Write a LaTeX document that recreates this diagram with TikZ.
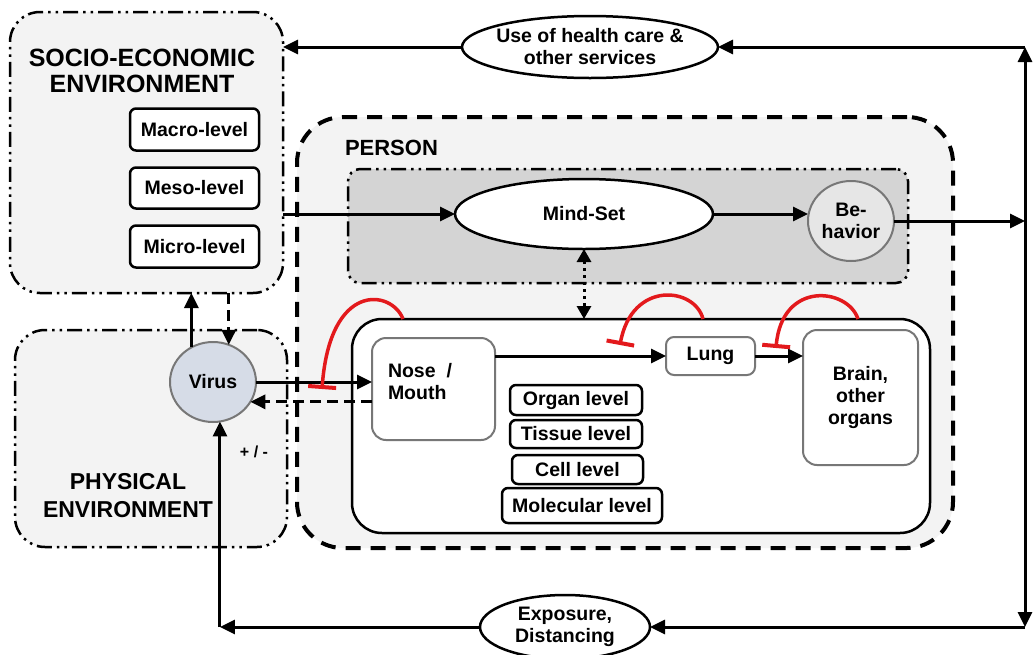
\documentclass[tikz,border=0pt]{standalone}
\usepackage{fontspec}
\setmainfont{Liberation Sans}
\usetikzlibrary{arrows.meta,shapes.geometric,calc}
\definecolor{envfill}{HTML}{F3F3F3}
\definecolor{mindfill}{HTML}{D4D4D4}
\definecolor{virusfill}{HTML}{D6DCE7}
\definecolor{behfill}{HTML}{E6E6E6}
\definecolor{rimgray}{HTML}{777777}
\definecolor{inhred}{HTML}{E3191C}
\begin{document}
\begin{tikzpicture}[x=1pt,y=-1pt,
  every node/.style={font=\bfseries\fontsize{19.5}{22}\selectfont, inner sep=0pt, outer sep=0pt},
  envbox/.style={draw, line width=2.5pt, fill=envfill, rounded corners=30pt,
    dash pattern=on 15pt off 5pt on 2.5pt off 5pt on 2.5pt off 5pt},
  personbox/.style={draw, line width=4pt, fill=envfill, rounded corners=46pt,
    dash pattern=on 15pt off 10pt},
  mindbox/.style={draw, line width=2.5pt, fill=mindfill, rounded corners=12pt,
    dash pattern=on 15pt off 5pt on 2.5pt off 5pt on 2.5pt off 5pt},
  bodybox/.style={draw, line width=2.5pt, fill=white, rounded corners=30pt},
  levelbox/.style={draw, line width=2.5pt, fill=white, rounded corners=6pt},
  organbox/.style={draw=rimgray, line width=2pt, fill=white, rounded corners=14pt},
  oval/.style={draw, ellipse, line width=2.5pt, fill=white},
  arr/.style={line width=3pt, -{Triangle[length=15pt,width=14pt]}},
  dasharr/.style={arr, dash pattern=on 11pt off 6pt},
  dotarr/.style={line width=3pt, dash pattern=on 3pt off 4pt,
    {Triangle[length=13pt,width=14pt]}-{Triangle[length=13pt,width=14pt]}},
  inh/.style={draw=inhred, line width=3.5pt, -{Bar[width=28pt,line width=4pt]}}
]
\useasboundingbox (0,0) rectangle (1034,654);
\fill[white] (0,0) rectangle (1034,654);

% surrounding environments and the person
\node[envbox, minimum width=273pt, minimum height=281pt] (se) at (146.5,152.5) {};
\node[envbox, minimum width=272pt, minimum height=217pt] (pe) at (151,438.5) {};
\node[personbox, minimum width=656pt, minimum height=431pt] (person) at (625,332.5) {};
\node[mindbox, minimum width=560pt, minimum height=114pt] (mindbox) at (628,226) {};
\node[bodybox, minimum width=578pt, minimum height=214pt] (body) at (641,426) {};

% titles
\node[font=\bfseries\fontsize{25}{26}\selectfont, align=center] (setitle) at (142,71) {SOCIO-ECONOMIC\\ENVIRONMENT};
\node[font=\bfseries\fontsize{23}{28}\selectfont, align=center] (petitle) at (128,496) {PHYSICAL\\ENVIRONMENT};
\node[font=\bfseries\fontsize{22}{24}\selectfont, anchor=west] (ptitle) at (345,148) {PERSON};

% socio-economic levels
\node[levelbox, minimum width=129pt, minimum height=42pt] (macro) at (194.5,129.5) {Macro-level};
\node[levelbox, minimum width=129pt, minimum height=41pt] (meso) at (194.5,188) {Meso-level};
\node[levelbox, minimum width=129pt, minimum height=42pt] (micro) at (194.5,246.5) {Micro-level};

% virus
\node[draw=rimgray, line width=2pt, fill=virusfill, ellipse, minimum width=86pt, minimum height=80pt] (virus) at (213,382) {Virus};
\node[font=\bfseries\fontsize{16}{18}\selectfont] (pm) at (254,452) {+ / -};

% mind-set and behaviour
\node[oval, minimum width=258pt, minimum height=70pt] (mind) at (584,214) {Mind-Set};
\node[draw=rimgray, line width=2pt, fill=behfill, ellipse, minimum width=86pt, minimum height=80pt, align=center] (beh) at (851,221) {Be-\\havior};

% organs
\node[organbox, minimum width=123pt, minimum height=102pt] (nose) at (433.5,389) {};
\node[anchor=north west, align=left] (nosetext) at ($(nose.north west)+(16,25)$) {Nose~~/\\Mouth};
\node[organbox, rounded corners=8pt, minimum width=89pt, minimum height=38pt] (lung) at (710.5,356) {Lung};
\node[organbox, minimum width=115pt, minimum height=135pt, align=center] (brain) at (860.5,397.5) {Brain,\\other\\organs};

% biological levels
\node[levelbox, minimum width=132pt, minimum height=30pt] (organ) at (576,400) {Organ level};
\node[levelbox, minimum width=132pt, minimum height=28pt] (tissue) at (576,434) {Tissue level};
\node[levelbox, minimum width=131pt, minimum height=29pt] (cell) at (577.5,469.5) {Cell level};
\node[levelbox, minimum width=160pt, minimum height=35pt] (molec) at (582,505.5) {Molecular level};

% feedback ovals
\node[oval, minimum width=256pt, minimum height=62pt,
  label={[align=center, font=\bfseries\fontsize{19.5}{22}\selectfont]center:Use of health care \&\\other services}] (health) at (590,47) {};
\node[oval, minimum width=170pt, minimum height=64pt,
  label={[align=center, font=\bfseries\fontsize{19.5}{22}\selectfont]center:Exposure,\\Distancing}] (expo) at (565,627) {};

% corner points of the outer loop
\coordinate (rx) at (1025,0);
\coordinate (tr) at (rx |- health.east);
\coordinate (mr) at (rx |- beh.east);
\coordinate (br) at (rx |- expo.east);
\coordinate (bl) at (virus.-80 |- expo.west);

% main flow
\draw[arr] (se.east |- mind.west) -- (mind.west);
\draw[arr] (mind.east) -- (mind.east -| beh.west);
\draw[arr] (beh.east) -- (mr);
\draw[arr] (mr) -- (tr);
\draw[arr] (tr) -- (health.east);
\draw[arr] (health.west) -- (health.west -| se.east);
\draw[arr] (mr) -- (br);
\draw[arr] (br) -- (expo.east);
\draw[arr] (expo.west) -- (bl);
\draw[arr] (bl) -- (virus.-80);
\draw[dotarr] (mind.south) -- (mind.south |- body.north);

% virus interactions
\draw[arr] (virus.122) -- (virus.122 |- se.south);
\draw[dasharr] (virus.67 |- se.south) -- (virus.67);
\draw[arr] (virus.east) -- (virus.east -| nose.west);
\draw[dasharr] (virus.-28 -| nose.west) -- (virus.-28);

% spread through the body
\draw[arr] (lung.west -| nose.east) -- (lung.west);
\draw[arr] (lung.east) -- (lung.east -| brain.west);

% inhibition loops
\coordinate (i1s) at (403,319); \coordinate (i1e) at (322,389);
\coordinate (i2s) at (703,319); \coordinate (i2e) at (620,345);
\coordinate (i3s) at (858,319); \coordinate (i3e) at (776,348);
\draw[inh] (i1s) .. controls (392,290) and (330,280) .. (i1e);
\draw[inh] (i2s) .. controls (695,287) and (632,280) .. (i2e);
\draw[inh] (i3s) .. controls (848,288) and (782,280) .. (i3e);
\end{tikzpicture}
\end{document}
